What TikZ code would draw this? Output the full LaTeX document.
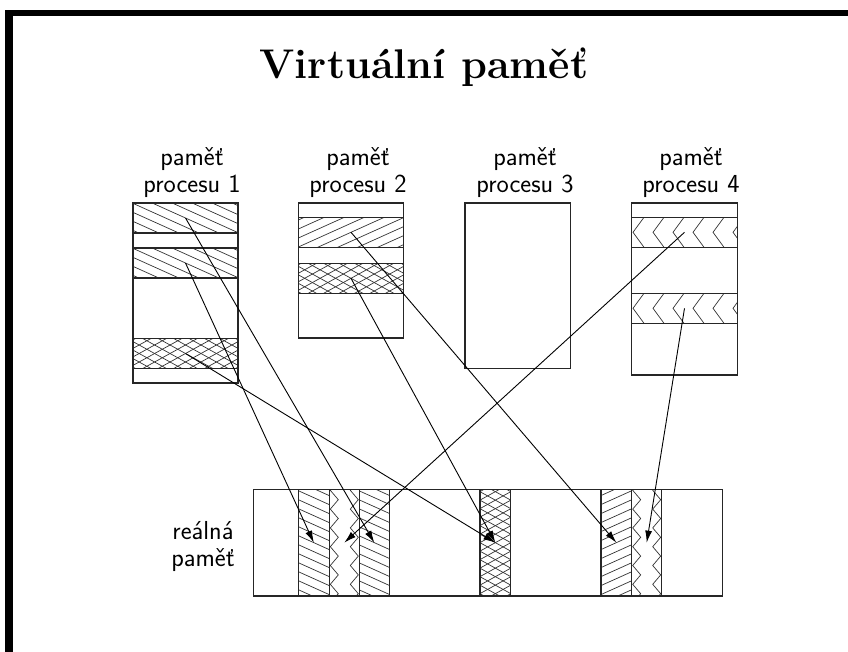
\documentclass[tikz,border=0pt]{standalone}
\usetikzlibrary{arrows.meta}
\begin{document}
\begin{tikzpicture}[x=1pt,y=-1pt,
  outline/.style={draw=black!85, line width=1.1pt},
  membox/.style={outline, rectangle, inner sep=0pt},
  strip/.style={outline, rectangle, inner sep=0pt},
  hline/.style={draw=black!80, line width=0.7pt},
  hatchnw/.style={path picture={
    \foreach \k in {-12,...,12}
      \draw[hline] ([shift={(-80,{-36+9*\k})}]path picture bounding box.center) -- ++(160,72);
  }},
  hatchne/.style={path picture={
    \foreach \k in {-12,...,12}
      \draw[hline] ([shift={(-80,{36+9*\k})}]path picture bounding box.center) -- ++(160,-72);
  }},
  crosshatch/.style={path picture={
    \foreach \k in {-14,...,14}{
      \draw[hline] ([shift={(-80,{-44+8.5*\k})}]path picture bounding box.center) -- ++(160,88);
      \draw[hline] ([shift={(-80,{44+8.5*\k})}]path picture bounding box.center) -- ++(160,-88);
    }
  }},
  zigband/.style={path picture={
    \foreach \j in {0,...,5}
      \draw[hline] ([shift={({-40.5+20*\j},-15)}]path picture bounding box.center)
        -- ++(-11,15) -- ++(11,15);
  }},
  zigstrip/.style={path picture={
    \foreach \s in {0,20}
      \draw[hline] ([shift={({-14+\s},-71.15)}]path picture bounding box.center)
        \foreach \i in {0,...,7}{ -- ++(8,9.4) -- ++(-8,9.4) };
  }},
  arr/.style={draw=black, line width=0.9pt, -{Latex[length=12pt,width=7pt]}},
  lbl/.style={font=\fontsize{26}{26}\selectfont\sffamily, inner sep=0pt, anchor=base},
  ttl/.style={font=\fontsize{41.5}{48}\selectfont\bfseries, inner sep=0pt, anchor=base}
]
\useasboundingbox (0,0) rectangle (848,652);

% frame edges along the top and the left side
\fill[black] (5,10) rectangle (848,16.5);
\fill[black] (5,10) rectangle (12.5,652);

% heading
\node[ttl] (title) at (424,79) {Virtuální paměť};

% captions of the process memories
\node[lbl] (c1a) at (192,166) {paměť};
\node[lbl] (c1b) at (192,192.5) {procesu 1};
\node[lbl] (c2a) at (358,166) {paměť};
\node[lbl] (c2b) at (358,192.5) {procesu 2};
\node[lbl] (c3a) at (525,166) {paměť};
\node[lbl] (c3b) at (525,192.5) {procesu 3};
\node[lbl] (c4a) at (691,166) {paměť};
\node[lbl] (c4b) at (691,192.5) {procesu 4};

% process memories
\node[membox, minimum width=105, minimum height=180] (pm1) at (185.5,293) {};
\node[membox, minimum width=105, minimum height=135] (pm2) at (351,270.5) {};
\node[membox, minimum width=105.5, minimum height=165.3] (pm3) at (517.75,285.7) {};
\node[membox, minimum width=105.5, minimum height=172] (pm4) at (684.5,289) {};

% pages of process 1
\node[strip, hatchnw, minimum width=105, minimum height=30] (a1) at (185.5,218) {};
\node[strip, hatchnw, minimum width=105, minimum height=30] (a2) at (185.5,263) {};
\node[strip, crosshatch, minimum width=105, minimum height=30] (a3) at (185.5,353.5) {};
% pages of process 2
\node[strip, hatchne, minimum width=105, minimum height=30] (b1) at (351,232.3) {};
\node[strip, crosshatch, minimum width=105, minimum height=30] (b2) at (351,278.3) {};
% pages of process 4
\node[strip, zigband, minimum width=105.5, minimum height=30] (d1) at (684.5,232.3) {};
\node[strip, zigband, minimum width=105.5, minimum height=30] (d2) at (684.5,308.3) {};

% physical memory
\node[lbl] (rla) at (203,539) {reálná};
\node[lbl] (rlb) at (203,566) {paměť};
\node[membox, minimum width=469, minimum height=106.7] (rm) at (487.8,542.65) {};
\node[strip, hatchnw, minimum width=31, minimum height=106.7] (r1) at (313.8,542.65) {};
\node[strip, zigstrip, minimum width=30, minimum height=106.7] (r2) at (344.3,542.65) {};
\node[strip, hatchnw, minimum width=30, minimum height=106.7] (r3) at (374.3,542.65) {};
\node[strip, crosshatch, minimum width=30.7, minimum height=106.7] (r4) at (495.35,542.65) {};
\node[strip, hatchne, minimum width=30.7, minimum height=106.7] (r5) at (616.35,542.65) {};
\node[strip, zigstrip, minimum width=30, minimum height=106.7] (r6) at (646.7,542.65) {};

% page mapping
\draw[arr] (a1.center) -- (r3.center);
\draw[arr] (a2.center) -- (r1.center);
\draw[arr] (a3.center) -- (r4.center);
\draw[arr] (b1.center) -- (r5.center);
\draw[arr] (b2.center) -- (r4.center);
\draw[arr] (d1.center) -- (r2.center);
\draw[arr] (d2.center) -- (r6.center);
\end{tikzpicture}
\end{document}
